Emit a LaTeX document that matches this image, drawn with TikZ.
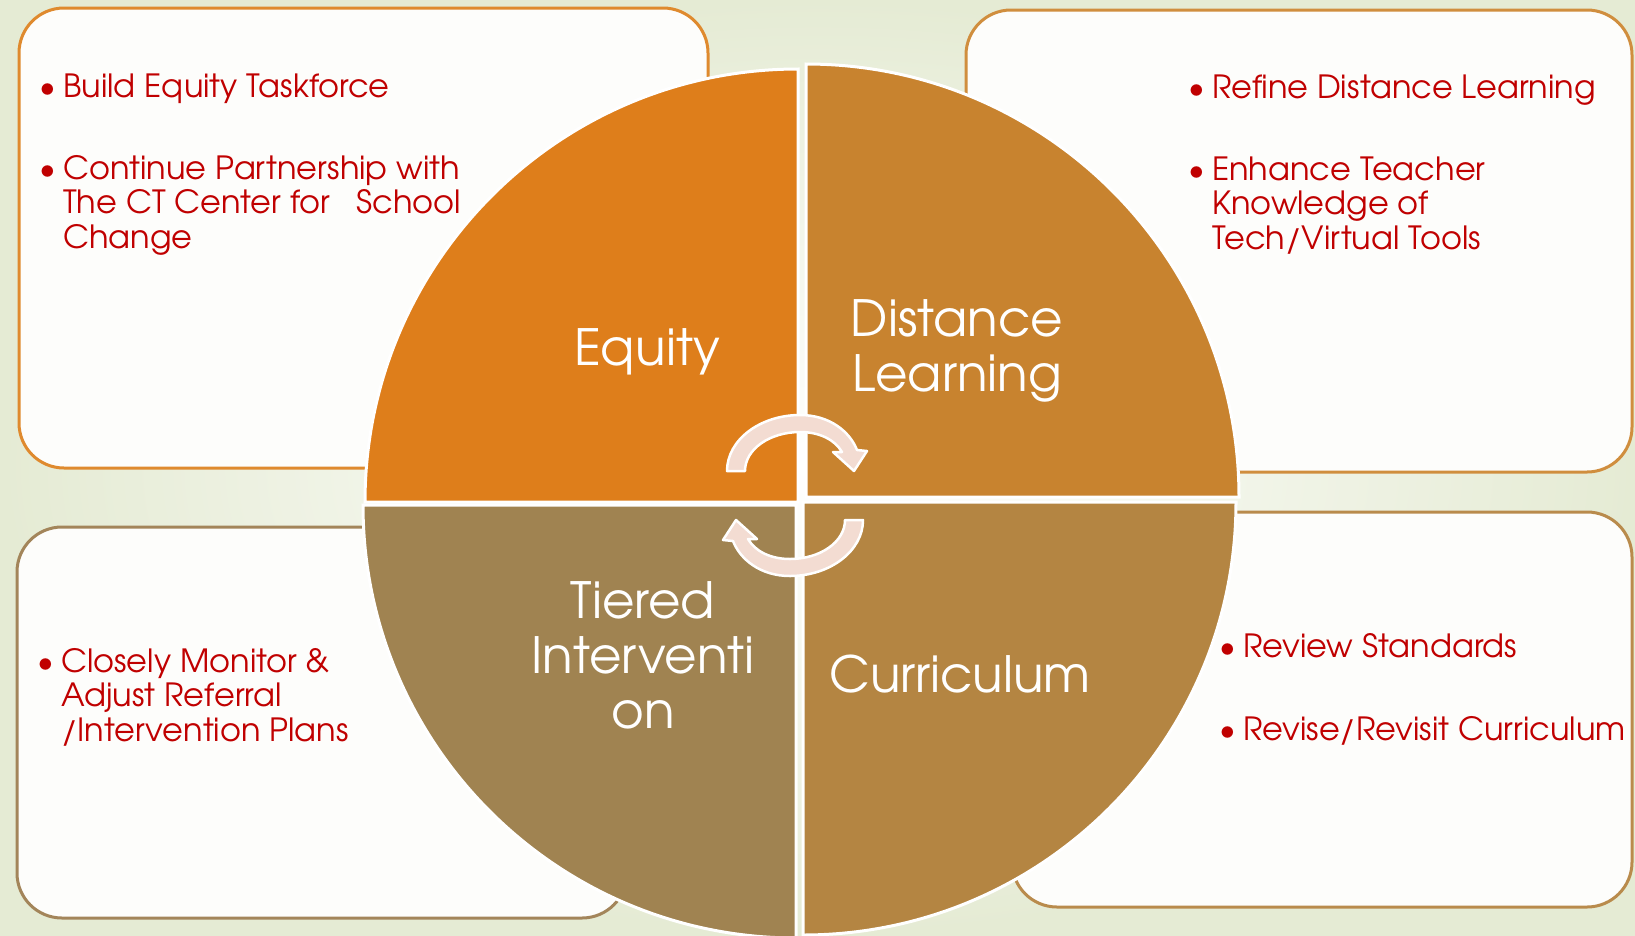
\documentclass[tikz,border=0pt]{standalone}
\usepackage{fontspec}
\setmainfont{TeX Gyre Adventor}
\definecolor{equityfill}{HTML}{DE7E1B}
\definecolor{distancefill}{HTML}{C8832F}
\definecolor{tieredfill}{HTML}{A08351}
\definecolor{curriculumfill}{HTML}{B48542}
\definecolor{itemred}{HTML}{C00000}
\definecolor{arrowpink}{HTML}{F3DCD2}
\definecolor{bggreen}{HTML}{E5EBD4}
\definecolor{boxfill}{HTML}{FDFDFB}
\begin{document}
\begin{tikzpicture}
[x=1pt,y=-1pt,
  boxdecorate/.style={rounded corners=45pt,fill=boxfill,line width=3pt},%
  quaddecorate/.style={draw=white,line width=3pt},%
  labeldecorate/.style={text=white,font=\fontsize{50}{55}\selectfont,align=center,inner sep=0pt,anchor=base},%
  itemdecorate/.style={text=itemred,font=\fontsize{32}{34.5}\selectfont,align=left,anchor=base west,inner sep=0pt},%
  arrowdecorate/.style={fill=arrowpink,draw=white,line width=2.5pt,line join=round}]
\useasboundingbox (0,0) rectangle (1635,935);
%% background
\shade[inner color=white,outer color=bggreen] (0,0) rectangle (1635,935);
%% text boxes
\foreach \boxname/\col/\xa/\ya/\xb/\yb in {
  equitybox/DF8A2E/19/8/708/468, distancebox/D08E3E/966/10/1632/472,
  tieredbox/A3855A/17/527/627/918, curriculumbox/B98B4C/1012/512/1632/907} {
  \definecolor{boxline}{HTML}{\col}
  \draw[boxdecorate,draw=boxline] (\xa,\ya) rectangle (\xb,\yb);
}
%% quarter circles
\foreach \quadname/\col/\cx/\cy/\a in {
  equity/equityfill/798/502/180, distance/distancefill/806/497/270,
  curriculum/curriculumfill/803/502/0, tiered/tieredfill/796/505/90} {
  \filldraw[quaddecorate,fill=\col] (\cx,\cy) -- ++(\a:433)
    arc[start angle=\a,end angle=\a+90,radius=433] -- cycle;
}
\node[labeldecorate] (equity) at (647,365) {Equity};
\node[labeldecorate] (distance) at (957,391) {Distance\\Learning};
\node[labeldecorate] (tiered) at (643,728) {Tiered\\Interventi\\on};
\node[labeldecorate] (curriculum) at (960,692) {Curriculum};
%% circular arrows
\foreach \turn in {0,180} {
  \filldraw[arrowdecorate,rotate around={\turn:(795,495.5)}]
    (745,471) -- (727,471) .. controls (727,440) and (760,415) .. (800,415)
    .. controls (830,415) and (850,432) .. (857,450) -- (867,451) -- (854,471)
    -- (833,452) -- (842,452) .. controls (835,440) and (820,432) .. (800,432)
    .. controls (770,432) and (745,449) .. (745,471) -- cycle;
}
%% bullet items
\node[itemdecorate] (build) at (63,97) {\llap{\textbullet\hspace{7pt}}Build Equity Taskforce};
\node[itemdecorate] (partner) at (63,248) {\llap{\textbullet\hspace{7pt}}Continue Partnership with\\The CT Center for~~~School\\Change};
\node[itemdecorate] (refine) at (1212,98) {\llap{\textbullet\hspace{7pt}}Refine Distance Learning};
\node[itemdecorate] (enhance) at (1212,249) {\llap{\textbullet\hspace{7pt}}Enhance Teacher\\Knowledge of\\Tech/Virtual Tools};
\node[itemdecorate] (monitor) at (61,741) {\llap{\textbullet\hspace{7pt}}Closely Monitor \&\\Adjust Referral\\/Intervention Plans};
\node[itemdecorate] (review) at (1243,657) {\llap{\textbullet\hspace{7pt}}Review Standards};
\node[itemdecorate] (revise) at (1243,740) {\llap{\textbullet\hspace{7pt}}Revise/Revisit Curriculum};
\end{tikzpicture}
\end{document}
